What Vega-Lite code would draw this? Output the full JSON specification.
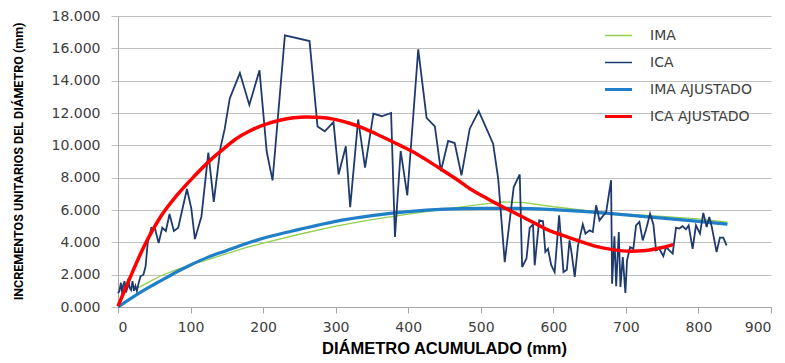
{
  "$schema": "https://vega.github.io/schema/vega-lite/v6.json",
  "width": 653,
  "height": 291,
  "autosize": {"type": "none"},
  "padding": {"left": 118, "top": 16, "right": 14, "bottom": 56},
  "background": "white",
  "config": {
    "view": {"stroke": null},
    "axis": {"labelFont": "DejaVu Sans", "labelFontSize": 14, "labelColor": "#404040", "titleFont": "Roboto", "titleFontWeight": "bold", "titleFontSize": 12.5, "titleColor": "#000000", "domainColor": "#a6a6a6", "tickColor": "#a6a6a6", "gridColor": "#c0c0c0"}
  },
  "datasets": {
    "ima": [
      {"x": 20, "y": 1.05, "series": "IMA"}, {"x": 30, "y": 1.25, "series": "IMA"}, {"x": 45, "y": 1.6, "series": "IMA"},
      {"x": 60, "y": 1.95, "series": "IMA"}, {"x": 80, "y": 2.3, "series": "IMA"}, {"x": 100, "y": 2.6, "series": "IMA"},
      {"x": 125, "y": 2.95, "series": "IMA"}, {"x": 150, "y": 3.3, "series": "IMA"}, {"x": 175, "y": 3.65, "series": "IMA"},
      {"x": 200, "y": 3.95, "series": "IMA"}, {"x": 250, "y": 4.5, "series": "IMA"}, {"x": 300, "y": 5.0, "series": "IMA"},
      {"x": 350, "y": 5.4, "series": "IMA"}, {"x": 400, "y": 5.75, "series": "IMA"}, {"x": 450, "y": 6.05, "series": "IMA"},
      {"x": 500, "y": 6.35, "series": "IMA"}, {"x": 530, "y": 6.5, "series": "IMA"}, {"x": 560, "y": 6.45, "series": "IMA"},
      {"x": 600, "y": 6.2, "series": "IMA"}, {"x": 650, "y": 5.95, "series": "IMA"}, {"x": 700, "y": 5.75, "series": "IMA"},
      {"x": 750, "y": 5.6, "series": "IMA"}, {"x": 800, "y": 5.45, "series": "IMA"}, {"x": 840, "y": 5.25, "series": "IMA"}
    ],
    "imaaj": [
      {"x": 0, "y": 0, "series": "IMA AJUSTADO"}, {"x": 20, "y": 0.6, "series": "IMA AJUSTADO"}, {"x": 40, "y": 1.15, "series": "IMA AJUSTADO"},
      {"x": 60, "y": 1.65, "series": "IMA AJUSTADO"}, {"x": 80, "y": 2.15, "series": "IMA AJUSTADO"}, {"x": 100, "y": 2.6, "series": "IMA AJUSTADO"},
      {"x": 125, "y": 3.1, "series": "IMA AJUSTADO"}, {"x": 150, "y": 3.5, "series": "IMA AJUSTADO"}, {"x": 175, "y": 3.9, "series": "IMA AJUSTADO"},
      {"x": 200, "y": 4.25, "series": "IMA AJUSTADO"}, {"x": 250, "y": 4.8, "series": "IMA AJUSTADO"}, {"x": 300, "y": 5.3, "series": "IMA AJUSTADO"},
      {"x": 350, "y": 5.65, "series": "IMA AJUSTADO"}, {"x": 400, "y": 5.9, "series": "IMA AJUSTADO"}, {"x": 450, "y": 6.05, "series": "IMA AJUSTADO"},
      {"x": 500, "y": 6.1, "series": "IMA AJUSTADO"}, {"x": 550, "y": 6.1, "series": "IMA AJUSTADO"}, {"x": 600, "y": 6.02, "series": "IMA AJUSTADO"},
      {"x": 650, "y": 5.88, "series": "IMA AJUSTADO"}, {"x": 700, "y": 5.7, "series": "IMA AJUSTADO"}, {"x": 750, "y": 5.5, "series": "IMA AJUSTADO"},
      {"x": 800, "y": 5.3, "series": "IMA AJUSTADO"}, {"x": 840, "y": 5.12, "series": "IMA AJUSTADO"}
    ],
    "ica": [
      {"x": 0, "y": 0.85, "series": "ICA"}, {"x": 2, "y": 1.0, "series": "ICA"}, {"x": 4, "y": 1.5, "series": "ICA"},
      {"x": 6, "y": 0.8, "series": "ICA"}, {"x": 7, "y": 1.3, "series": "ICA"}, {"x": 9, "y": 1.6, "series": "ICA"},
      {"x": 11, "y": 0.9, "series": "ICA"}, {"x": 13, "y": 1.2, "series": "ICA"}, {"x": 14, "y": 1.75, "series": "ICA"},
      {"x": 16, "y": 1.2, "series": "ICA"}, {"x": 18, "y": 1.05, "series": "ICA"}, {"x": 20, "y": 1.6, "series": "ICA"},
      {"x": 22, "y": 1.0, "series": "ICA"}, {"x": 24, "y": 1.3, "series": "ICA"}, {"x": 26, "y": 1.0, "series": "ICA"},
      {"x": 28, "y": 1.4, "series": "ICA"}, {"x": 31, "y": 1.9, "series": "ICA"}, {"x": 35, "y": 2.0, "series": "ICA"},
      {"x": 38, "y": 2.5, "series": "ICA"}, {"x": 41, "y": 4.0, "series": "ICA"}, {"x": 46, "y": 4.9, "series": "ICA"},
      {"x": 51, "y": 4.85, "series": "ICA"}, {"x": 56, "y": 3.95, "series": "ICA"}, {"x": 61, "y": 4.9, "series": "ICA"},
      {"x": 66, "y": 4.7, "series": "ICA"}, {"x": 71, "y": 5.75, "series": "ICA"}, {"x": 77, "y": 4.7, "series": "ICA"},
      {"x": 83, "y": 4.9, "series": "ICA"}, {"x": 95, "y": 7.3, "series": "ICA"}, {"x": 101, "y": 6.1, "series": "ICA"},
      {"x": 106, "y": 4.2, "series": "ICA"}, {"x": 115, "y": 5.6, "series": "ICA"}, {"x": 124.5, "y": 9.55, "series": "ICA"},
      {"x": 132, "y": 6.5, "series": "ICA"}, {"x": 141, "y": 9.8, "series": "ICA"}, {"x": 147, "y": 11.0, "series": "ICA"},
      {"x": 154, "y": 12.9, "series": "ICA"}, {"x": 168, "y": 14.47, "series": "ICA"}, {"x": 181, "y": 12.5, "series": "ICA"},
      {"x": 195, "y": 14.64, "series": "ICA"}, {"x": 205, "y": 9.6, "series": "ICA"}, {"x": 213, "y": 7.83, "series": "ICA"},
      {"x": 230, "y": 16.8, "series": "ICA"}, {"x": 264, "y": 16.45, "series": "ICA"}, {"x": 275, "y": 11.17, "series": "ICA"},
      {"x": 285, "y": 10.87, "series": "ICA"}, {"x": 297, "y": 11.44, "series": "ICA"}, {"x": 304, "y": 8.2, "series": "ICA"},
      {"x": 314, "y": 9.94, "series": "ICA"}, {"x": 320, "y": 6.18, "series": "ICA"}, {"x": 331, "y": 11.6, "series": "ICA"},
      {"x": 340.5, "y": 8.62, "series": "ICA"}, {"x": 352, "y": 11.96, "series": "ICA"}, {"x": 363.6, "y": 11.8, "series": "ICA"},
      {"x": 376.4, "y": 12.0, "series": "ICA"}, {"x": 381.7, "y": 4.33, "series": "ICA"}, {"x": 389.6, "y": 9.65, "series": "ICA"},
      {"x": 398.7, "y": 6.9, "series": "ICA"}, {"x": 413.8, "y": 15.94, "series": "ICA"}, {"x": 425.3, "y": 11.7, "series": "ICA"},
      {"x": 436.7, "y": 11.17, "series": "ICA"}, {"x": 445, "y": 8.4, "series": "ICA"}, {"x": 455, "y": 10.27, "series": "ICA"},
      {"x": 464, "y": 10.14, "series": "ICA"}, {"x": 473.4, "y": 8.14, "series": "ICA"}, {"x": 484.8, "y": 11.03, "series": "ICA"},
      {"x": 497.2, "y": 12.12, "series": "ICA"}, {"x": 517, "y": 10.1, "series": "ICA"}, {"x": 524, "y": 7.94, "series": "ICA"},
      {"x": 533, "y": 2.78, "series": "ICA"}, {"x": 545.4, "y": 7.42, "series": "ICA"}, {"x": 553.7, "y": 8.2, "series": "ICA"},
      {"x": 557, "y": 2.47, "series": "ICA"}, {"x": 563, "y": 3.0, "series": "ICA"}, {"x": 567.4, "y": 4.9, "series": "ICA"},
      {"x": 572, "y": 5.11, "series": "ICA"}, {"x": 574.3, "y": 2.58, "series": "ICA"}, {"x": 580.5, "y": 5.36, "series": "ICA"},
      {"x": 585.8, "y": 5.3, "series": "ICA"}, {"x": 589, "y": 3.4, "series": "ICA"}, {"x": 592.6, "y": 3.6, "series": "ICA"},
      {"x": 597, "y": 2.6, "series": "ICA"}, {"x": 601.8, "y": 2.16, "series": "ICA"}, {"x": 608, "y": 5.67, "series": "ICA"},
      {"x": 614, "y": 2.16, "series": "ICA"}, {"x": 618.6, "y": 2.3, "series": "ICA"}, {"x": 622.3, "y": 4.12, "series": "ICA"},
      {"x": 625, "y": 3.4, "series": "ICA"}, {"x": 629.5, "y": 1.86, "series": "ICA"}, {"x": 634, "y": 3.8, "series": "ICA"},
      {"x": 640.6, "y": 5.11, "series": "ICA"}, {"x": 644.3, "y": 4.54, "series": "ICA"}, {"x": 649.8, "y": 4.74, "series": "ICA"},
      {"x": 654.4, "y": 4.64, "series": "ICA"}, {"x": 659, "y": 6.29, "series": "ICA"}, {"x": 663.6, "y": 5.36, "series": "ICA"},
      {"x": 669, "y": 5.67, "series": "ICA"}, {"x": 672.8, "y": 5.87, "series": "ICA"}, {"x": 679.6, "y": 7.84, "series": "ICA"},
      {"x": 681, "y": 1.44, "series": "ICA"}, {"x": 684.2, "y": 4.37, "series": "ICA"}, {"x": 686.6, "y": 1.28, "series": "ICA"},
      {"x": 690.2, "y": 4.64, "series": "ICA"}, {"x": 692.5, "y": 1.24, "series": "ICA"}, {"x": 695.7, "y": 3.09, "series": "ICA"},
      {"x": 699.3, "y": 0.87, "series": "ICA"}, {"x": 701.6, "y": 2.89, "series": "ICA"}, {"x": 705.8, "y": 3.71, "series": "ICA"},
      {"x": 710.3, "y": 3.6, "series": "ICA"}, {"x": 714, "y": 5.05, "series": "ICA"}, {"x": 718.6, "y": 5.26, "series": "ICA"},
      {"x": 723.2, "y": 4.12, "series": "ICA"}, {"x": 727.8, "y": 4.8, "series": "ICA"}, {"x": 733.3, "y": 5.77, "series": "ICA"},
      {"x": 737.9, "y": 5.11, "series": "ICA"}, {"x": 741.6, "y": 3.5, "series": "ICA"}, {"x": 746.1, "y": 3.6, "series": "ICA"},
      {"x": 751.6, "y": 3.14, "series": "ICA"}, {"x": 755.3, "y": 3.71, "series": "ICA"}, {"x": 759.9, "y": 3.5, "series": "ICA"},
      {"x": 764.5, "y": 3.3, "series": "ICA"}, {"x": 769.1, "y": 4.91, "series": "ICA"}, {"x": 773.6, "y": 4.85, "series": "ICA"},
      {"x": 778.2, "y": 5.0, "series": "ICA"}, {"x": 782.8, "y": 4.8, "series": "ICA"}, {"x": 786.5, "y": 5.05, "series": "ICA"},
      {"x": 792, "y": 3.6, "series": "ICA"}, {"x": 796.6, "y": 5.05, "series": "ICA"}, {"x": 802.1, "y": 4.54, "series": "ICA"},
      {"x": 806.7, "y": 5.82, "series": "ICA"}, {"x": 811.3, "y": 4.95, "series": "ICA"}, {"x": 815, "y": 5.57, "series": "ICA"},
      {"x": 818.6, "y": 4.91, "series": "ICA"}, {"x": 825, "y": 3.4, "series": "ICA"}, {"x": 829.6, "y": 4.29, "series": "ICA"},
      {"x": 834.2, "y": 4.29, "series": "ICA"}, {"x": 838.8, "y": 3.81, "series": "ICA"}
    ],
    "icaaj": [
      {"x": 0, "y": 0.05, "series": "ICA AJUSTADO"}, {"x": 17, "y": 1.86, "series": "ICA AJUSTADO"}, {"x": 35.5, "y": 3.71, "series": "ICA AJUSTADO"},
      {"x": 58.5, "y": 5.57, "series": "ICA AJUSTADO"}, {"x": 81, "y": 6.9, "series": "ICA AJUSTADO"}, {"x": 104, "y": 8.04, "series": "ICA AJUSTADO"},
      {"x": 127, "y": 9.07, "series": "ICA AJUSTADO"}, {"x": 143, "y": 9.69, "series": "ICA AJUSTADO"}, {"x": 162, "y": 10.38, "series": "ICA AJUSTADO"},
      {"x": 182, "y": 10.9, "series": "ICA AJUSTADO"}, {"x": 203, "y": 11.3, "series": "ICA AJUSTADO"}, {"x": 223, "y": 11.55, "series": "ICA AJUSTADO"},
      {"x": 242, "y": 11.7, "series": "ICA AJUSTADO"}, {"x": 260, "y": 11.75, "series": "ICA AJUSTADO"}, {"x": 280, "y": 11.72, "series": "ICA AJUSTADO"},
      {"x": 297, "y": 11.62, "series": "ICA AJUSTADO"}, {"x": 318, "y": 11.38, "series": "ICA AJUSTADO"}, {"x": 338, "y": 11.07, "series": "ICA AJUSTADO"},
      {"x": 356, "y": 10.7, "series": "ICA AJUSTADO"}, {"x": 375, "y": 10.3, "series": "ICA AJUSTADO"}, {"x": 391, "y": 9.95, "series": "ICA AJUSTADO"},
      {"x": 407, "y": 9.59, "series": "ICA AJUSTADO"}, {"x": 425, "y": 9.1, "series": "ICA AJUSTADO"}, {"x": 444, "y": 8.56, "series": "ICA AJUSTADO"},
      {"x": 465, "y": 7.95, "series": "ICA AJUSTADO"}, {"x": 485, "y": 7.32, "series": "ICA AJUSTADO"}, {"x": 503, "y": 6.85, "series": "ICA AJUSTADO"},
      {"x": 522, "y": 6.39, "series": "ICA AJUSTADO"}, {"x": 540, "y": 5.97, "series": "ICA AJUSTADO"}, {"x": 558, "y": 5.57, "series": "ICA AJUSTADO"},
      {"x": 575, "y": 5.17, "series": "ICA AJUSTADO"}, {"x": 590, "y": 4.82, "series": "ICA AJUSTADO"}, {"x": 613, "y": 4.43, "series": "ICA AJUSTADO"},
      {"x": 636, "y": 4.08, "series": "ICA AJUSTADO"}, {"x": 659, "y": 3.75, "series": "ICA AJUSTADO"}, {"x": 682, "y": 3.55, "series": "ICA AJUSTADO"},
      {"x": 705, "y": 3.45, "series": "ICA AJUSTADO"}, {"x": 728, "y": 3.5, "series": "ICA AJUSTADO"}, {"x": 750, "y": 3.68, "series": "ICA AJUSTADO"},
      {"x": 765, "y": 3.86, "series": "ICA AJUSTADO"}
    ]
  },
  "encoding": {
    "x": {"field": "x", "type": "quantitative", "scale": {"domain": [0, 900]},
      "axis": {"values": [0, 100, 200, 300, 400, 500, 600, 700, 800, 900], "grid": false, "tickSize": 6, "labelPadding": 7, "title": "DIÁMETRO ACUMULADO (mm)", "titleFont": "Liberation Sans", "titleFontSize": 16.5, "titleX": 326, "titleY": 41, "titleBaseline": "middle", "titleAnchor": "start", "titleAlign": "center"}},
    "y": {"field": "y", "type": "quantitative", "scale": {"domain": [0, 18]},
      "axis": {"values": [0, 2, 4, 6, 8, 10, 12, 14, 16, 18], "format": ".3f", "tickSize": 7, "labelPadding": 11, "tickColor": "#c0c0c0", "title": "INCREMENTOS UNITARIOS DEL DIÁMETRO (mm)", "titleX": -100, "titleY": 145, "titleBaseline": "middle", "titleAlign": "center", "titleAngle": -90}},
    "color": {"field": "series", "type": "nominal",
      "scale": {"domain": ["IMA", "ICA", "IMA AJUSTADO", "ICA AJUSTADO"], "range": ["#92D050", "#1F3A6E", "#1F7FC8", "#FF0000"]},
      "legend": {"title": null, "orient": "none", "legendX": 487, "legendY": 6, "symbolType": "stroke", "symbolSize": 1600, "clipHeight": 27, "rowPadding": 0, "labelOffset": 31, "labelFont": "DejaVu Sans", "labelFontSize": 14, "labelColor": "#404040",
        "encode": {"symbols": {"update": {"strokeWidth": {"signal": "indexof(['IMA AJUSTADO','ICA AJUSTADO'], datum.value) >= 0 ? 3 : 1.5"}}}}}
    }
  },
  "layer": [
    {"data": {"name": "ima"}, "mark": {"type": "line", "strokeWidth": 1.3}},
    {"data": {"name": "imaaj"}, "mark": {"type": "line", "strokeWidth": 3.2, "interpolate": "monotone"}},
    {"data": {"name": "ica"}, "mark": {"type": "line", "strokeWidth": 1.8}},
    {"data": {"name": "icaaj"}, "mark": {"type": "line", "strokeWidth": 3.5, "interpolate": "monotone"}}
  ]
}
